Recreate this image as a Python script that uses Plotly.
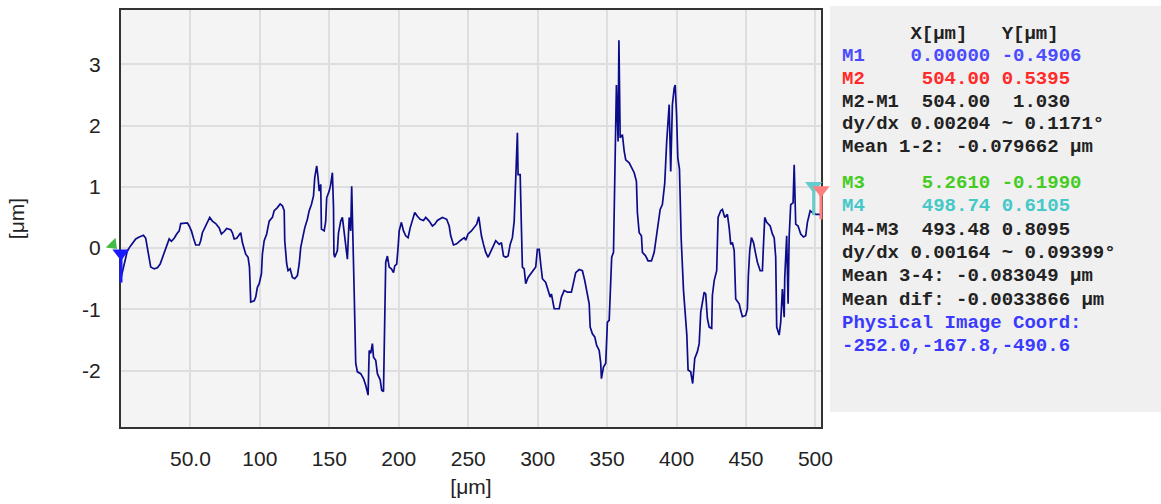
import plotly.graph_objects as go

# ---------------- data ----------------
profile_x = [0, 4.6, 7.0, 10.6, 13.1, 16.2, 17.8, 19.0, 20.3, 21.4, 23.9, 26.2, 28.2, 29.8, 31.5, 33.4, 34.7, 36.3,
             38.3, 40.1, 41.9, 43.0, 47.8, 49.1, 50.7, 52.2, 53.8, 56.3, 57.4, 58.6, 60.3, 62.2, 63.9, 65.8, 68.2,
             70.7, 72.3, 74.3, 76.1, 79.0, 80.2, 81.5, 83.3, 84.6, 86.2, 87.4, 88.7, 89.8, 91.5, 92.5, 93.4, 95.9,
             97.0, 98.2, 99.5, 101.1, 101.8, 103.1, 104.9, 106.7, 109.0, 110.3, 112.6, 114.6, 116.2, 117.5, 117.9,
             119.3, 120.3, 121.8, 123.4, 125.1, 127.0, 128.3, 129.4, 130.6, 132.3, 134.2, 135.5, 137.1, 138.6,
             139.5, 140.9, 141.9, 142.7, 143.8, 144.3, 146.3, 147.4, 148.1, 149.9, 151.0, 152.2, 153.0, 153.3,
             153.9, 155.8, 156.6, 158.2, 159.4, 160.7, 161.8, 163.0, 164.3, 165.4, 166.1, 167.1, 167.9, 169.0,
             170.2, 172.6, 174.6, 176.2, 177.9, 178.7, 179.8, 181.0, 181.8, 183.4, 184.6, 186.6, 187.7, 189.0,
             189.5, 190.6, 191.8, 193.1, 194.7, 196.2, 197.1, 198.5, 199.5, 200.3, 201.9, 203.4, 205.0, 206.7,
             208.2, 209.8, 211.5, 213.4, 215.4, 217.8, 219.4, 221.9, 224.2, 225.9, 227.8, 231.4, 234.5, 236.3,
             237.4, 239.4, 241.7, 244.2, 245.8, 247.1, 248.2, 249.9, 252.3, 254.3, 256.1, 257.6, 258.6, 259.5,
             261.0, 262.6, 264.3, 266.2, 268.2, 269.8, 272.3, 273.9, 275.4, 277.0, 278.7, 280.2, 281.8, 283.1,
             284.2, 285.4, 285.9, 287.4, 288.3, 289.0, 290.3, 291.4, 293.1, 295.0, 297.0, 298.6, 299.8, 301.1,
             302.2, 303.4, 305.8, 307.5, 309.0, 309.9, 311.9, 315.5, 317.1, 319.1, 321.4, 324.3, 325.8, 327.4,
             329.9, 332.2, 333.9, 335.8, 337.1, 337.8, 339.4, 341.1, 342.5, 344.3, 345.4, 345.9, 347.4, 349.0,
             350.2, 351.5, 352.2, 353.3, 354.6, 355.5, 356.7, 357.9, 358.5, 359.4, 361.0, 362.3, 363.4, 365.9,
             367.5, 369.5, 371.1, 371.8, 373.1, 374.7, 375.4, 377.8, 379.5, 381.9, 383.9, 385.0, 386.2, 388.2,
             389.8, 391.5, 392.9, 394.7, 395.8, 397.0, 398.3, 399.0, 400.0, 400.9, 402.1, 403.3, 405.0, 405.9,
             407.4, 408.3, 410.2, 411.6, 413.1, 415.0, 416.3, 417.4, 418.6, 419.9, 421.0, 422.2, 423.5, 425.3,
             425.8, 427.1, 428.9, 429.9, 431.8, 433.0, 434.7, 436.6, 437.9, 439.0, 440.2, 441.5, 442.6, 445.1,
             446.2, 447.4, 449.8, 451.0, 451.7, 452.7, 453.9, 455.4, 457.0, 458.2, 460.2, 461.8, 462.6, 463.5,
             464.9, 467.4, 469.0, 470.3, 471.4, 472.1, 473.9, 475.0, 476.2, 477.5, 477.9, 479.3, 480.3, 481.1,
             482.2, 483.9, 484.7, 485.1, 485.8, 487.5, 489.4, 491.4, 493.0, 494.2, 496.2, 497.8, 500.2, 502.7,
             504.0]
profile_y = [-0.49, -0.04, 0.04, 0.15, 0.18, 0.21, 0.16, 0.01, -0.15, -0.31, -0.34, -0.32, -0.26, -0.15, -0.04,
             0.06, 0.15, 0.11, 0.16, 0.23, 0.28, 0.40, 0.41, 0.36, 0.28, 0.16, 0.05, 0.05, 0.12, 0.25, 0.33, 0.42,
             0.50, 0.44, 0.40, 0.33, 0.23, 0.27, 0.32, 0.30, 0.25, 0.15, 0.16, 0.20, 0.25, 0.09, -0.04, -0.10,
             -0.15, -0.31, -0.88, -0.86, -0.80, -0.64, -0.58, -0.42, -0.10, 0.12, 0.23, 0.44, 0.50, 0.61, 0.66,
             0.72, 0.69, 0.61, 0.12, -0.26, -0.37, -0.34, -0.48, -0.50, -0.45, -0.26, 0.01, 0.17, 0.33, 0.47,
             0.61, 0.71, 0.85, 1.15, 1.34, 1.15, 0.93, 1.04, 0.31, 0.28, 0.44, 0.82, 0.93, 1.04, 1.23, 0.66,
             -0.10, -0.15, -0.04, 0.25, 0.44, 0.50, 0.23, 0.01, -0.18, 0.50, 0.28, 1.01, 0.23, -0.72, -1.88,
             -2.02, -2.05, -2.13, -2.24, -2.40, -1.67, -1.72, -1.56, -1.78, -1.83, -2.05, -2.15, -2.32, -2.34,
             -1.40, -0.23, -0.13, -0.31, -0.34, -0.40, -0.29, -0.26, 0.01, 0.28, 0.42, 0.28, 0.20, 0.17, 0.33,
             0.44, 0.58, 0.52, 0.47, 0.45, 0.50, 0.44, 0.36, 0.39, 0.45, 0.50, 0.47, 0.36, 0.20, 0.05, 0.07,
             0.12, 0.15, 0.17, 0.13, 0.23, 0.28, 0.33, 0.39, 0.51, 0.33, 0.20, 0.06, -0.07, -0.15, -0.07, 0.04,
             0.12, 0.06, 0.09, -0.13, -0.15, -0.13, 0.06, 0.17, 0.44, 1.20, 1.88, 1.20, 1.20, 0.33, -0.31, -0.34,
             -0.58, -0.48, -0.42, -0.37, -0.31, -0.02, -0.02, -0.26, -0.50, -0.56, -0.69, -0.80, -0.75, -0.99,
             -0.99, -0.80, -0.69, -0.72, -0.72, -0.56, -0.40, -0.35, -0.37, -0.53, -0.75, -0.91, -1.29, -1.40,
             -1.45, -1.59, -1.67, -1.88, -2.13, -1.94, -1.88, -1.21, -1.18, -0.64, -0.15, -0.07, 1.06, 2.66,
             1.74, 3.39, 1.80, 1.85, 1.58, 1.44, 1.39, 1.31, 1.23, 1.09, 0.58, 0.25, 0.20, -0.07, -0.13, -0.21,
             -0.21, -0.07, 0.09, 0.33, 0.63, 0.71, 1.06, 1.74, 2.34, 1.25, 2.34, 2.61, 2.66, 2.18, 1.47, 1.29,
             0.17, -0.69, -1.02, -1.42, -1.99, -2.02, -2.21, -1.80, -1.69, -1.56, -1.05, -0.86, -0.72, -0.75,
             -1.15, -1.29, -1.31, -0.77, -0.53, -0.37, 0.50, 0.61, 0.63, 0.50, 0.55, 0.33, 0.06, 0.09, -0.04,
             -0.83, -0.91, -1.02, -1.12, -1.10, -0.99, -0.45, -0.04, 0.17, 0.09, -0.10, -0.23, -0.37, -0.37,
             0.06, 0.50, 0.42, 0.36, 0.23, 0.17, -0.15, -1.29, -1.42, -1.21, -0.67, -1.13, -0.48, 0.20, -0.91,
             0.20, 0.71, 0.74, 1.36, 0.85, 0.39, 0.36, 0.23, 0.18, 0.20, 0.42, 0.61, 0.58, 0.55, 0.55, 0.54]

x_tick_values = [50, 100, 150, 200, 250, 300, 350, 400, 450, 500]
x_tick_labels = ["50.0", "100", "150", "200", "250", "300", "350", "400", "450", "500"]
y_tick_values = [-2, -1, 0, 1, 2, 3]
y_tick_labels = ["-2", "-1", "0", "1", "2", "3"]

marker_names = ["M1", "M2", "M3", "M4"]
marker_x = [0.0, 504.0, 5.261, 498.74]
marker_y = [-0.4906, 0.5395, -0.1990, 0.6105]
marker_colors = ["#1a1aff", "#ff7f7f", "#44bb44", "#66cccc"]

panel_lines = [
    "      X[μm]   Y[μm]",
    "M1    0.00000 -0.4906",
    "M2     504.00 0.5395",
    "M2-M1  504.00  1.030",
    "dy/dx 0.00204 ~ 0.1171°",
    "Mean 1-2: -0.079662 μm",
    "M3     5.2610 -0.1990",
    "M4     498.74 0.6105",
    "M4-M3  493.48 0.8095",
    "dy/dx 0.00164 ~ 0.09399°",
    "Mean 3-4: -0.083049 μm",
    "Mean dif: -0.0033866 μm",
    "Physical Image Coord:",
    "-252.0,-167.8,-490.6",
]
panel_colors = ["#222222", "#4a4aff", "#ff2a2a", "#222222", "#222222", "#222222",
                "#44cc22", "#44c8c8", "#222222", "#222222", "#222222", "#222222",
                "#3a3aff", "#3a3aff"]
panel_line_px = [32, 54, 77, 100, 123, 146, 182, 205, 229, 252, 275, 299, 323, 346]

# ---------------- figure ----------------
W, H = 1161, 504
ML, MR, MT, MB = 121, 340, 8, 77
PW, PH = W - ML - MR, H - MT - MB

fig = go.Figure()
fig.add_trace(go.Scatter(x=profile_x, y=profile_y, mode="lines",
                         line=dict(color="#0c0c8a", width=1.7), hoverinfo="skip",
                         showlegend=False))

# M3 cursor (green) sits up-left of its point, mostly hidden behind M1
fig.add_trace(go.Scatter(x=[marker_x[2]], y=[marker_y[2]], mode="markers",
                         marker=dict(symbol="triangle-up", size=12, angle=135, standoff=22,
                                     color=marker_colors[2], line=dict(width=0)),
                         cliponaxis=False, hoverinfo="skip", showlegend=False))

# M1, M4, M2 cursors: downward pins whose tip touches the point
for idx in [0, 3, 1]:
    col = marker_colors[idx]
    fig.add_trace(go.Scatter(x=[marker_x[idx]], y=[marker_y[idx]], mode="markers",
                             marker=dict(symbol="line-ns", size=22, angle=180, standoff=11,
                                         line=dict(color=col, width=3)),
                             cliponaxis=False, hoverinfo="skip", showlegend=False))
    fig.add_trace(go.Scatter(x=[marker_x[idx]], y=[marker_y[idx]], mode="markers",
                             marker=dict(symbol="triangle-up", size=15, angle=180, standoff=25,
                                         color=col, line=dict(width=0)),
                             cliponaxis=False, hoverinfo="skip", showlegend=False))

annotations = []
for txt, col, py in zip(panel_lines, panel_colors, panel_line_px):
    annotations.append(dict(x=(840 - ML) / PW, y=(H - MB - py) / PH, xref="paper", yref="paper",
                            xanchor="left", yanchor="middle", showarrow=False,
                            text="<b>" + txt.replace(" ", "\u00a0") + "</b>",
                            font=dict(family="Liberation Mono", size=19, color=col)))

fig.update_layout(
    width=W, height=H, autosize=False,
    margin=dict(l=ML, r=MR, t=MT, b=MB, pad=0),
    paper_bgcolor="white", plot_bgcolor="#f4f4f4",
    showlegend=False,
    annotations=annotations,
    shapes=[dict(type="rect", xref="paper", yref="paper",
                 x0=(830 - ML) / PW, x1=(W - ML) / PW,
                 y0=(H - MB - 412) / PH, y1=(H - MB - 4) / PH,
                 fillcolor="#f0f0f0", line=dict(width=0), layer="below")],
    font=dict(family="Liberation Sans", color="#222222"),
)
fig.update_xaxes(range=[0, 504], tickmode="array", tickvals=x_tick_values, ticktext=x_tick_labels,
                 showgrid=True, gridcolor="#dedede", gridwidth=1.5, zeroline=False,
                 showline=True, mirror=True, linecolor="#333333", linewidth=2, layer="below traces",
                 ticks="", ticklabelstandoff=12, tickfont=dict(size=21),
                 title=dict(text="[μm]", font=dict(size=21), standoff=10))
fig.update_yaxes(range=[-2.92, 3.885], tickmode="array", tickvals=y_tick_values, ticktext=y_tick_labels,
                 showgrid=True, gridcolor="#dedede", gridwidth=1.5, zeroline=False,
                 showline=True, mirror=True, linecolor="#333333", linewidth=2, layer="below traces",
                 ticks="", ticklabelstandoff=14, tickfont=dict(size=21),
                 title=dict(text="[μm]", font=dict(size=21), standoff=52))

fig.write_html("out.html")
